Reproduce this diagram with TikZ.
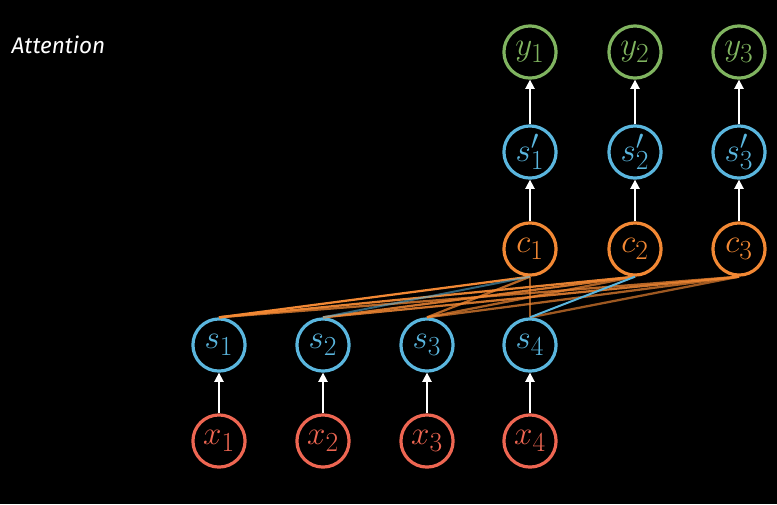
\documentclass[tikz,border=0pt]{standalone}
\usepackage{fontspec}
\usepackage{tikz}
\usetikzlibrary{arrows.meta}
\newfontfamily\titlefont{Fira Sans}
\definecolor{inred}{RGB}{238,102,82}
\definecolor{hidblue}{RGB}{90,182,222}
\definecolor{ctxorange}{RGB}{242,136,52}
\definecolor{outgreen}{RGB}{128,180,96}

\tikzset{
  unit/.style={circle, line width=2.4pt, minimum size=1.38cm, inner sep=0pt, fill=black,
    font=\fontsize{28}{30}\selectfont},
  flow/.style={white, line width=1.3pt, -{Triangle[length=7pt,width=7pt]}},
  attn/.style={ctxorange, line width=1.7pt}
}

\begin{document}
\begin{tikzpicture}[x=0.026458cm, y=-0.026458cm]
  % background
  \fill[black] (0,0) rectangle (777,504);
  \node[white, anchor=west, font=\titlefont\itshape\fontsize{17}{20}\selectfont] (title) at (7,45) {Attention};

  % encoder: inputs and hidden states
  \foreach \i/\px in {1/219,2/323,3/427,4/530}{
    \node[unit, draw=inred, text=inred] (x\i) at (\px,441) {$x_{\i}$};
    \node[unit, draw=hidblue, text=hidblue] (s\i) at (\px,345) {$s_{\i}$};
    \draw[flow] (x\i) -- (s\i);
  }

  % decoder: contexts, states, outputs
  \foreach \j/\px in {1/530,2/635,3/739}{
    \node[unit, draw=ctxorange, text=ctxorange] (c\j) at (\px,249) {$c_{\j}$};
    \node[unit, draw=hidblue, text=hidblue] (sp\j) at (\px,152) {$s'_{\j}$};
    \node[unit, draw=outgreen, text=outgreen] (y\j) at (\px,52) {$y_{\j}$};
    \draw[flow] (c\j) -- (sp\j);
    \draw[flow] (sp\j) -- (y\j);
  }

  % attention weights
  \foreach \j/\i/\op in {1/1/1,1/3/0.75,1/4/0.65,2/1/0.95,2/2/0.85,2/3/0.7,3/1/0.75,3/2/0.85,3/3/0.7,3/4/0.65}{
    \draw[attn, opacity=\op] (c\j.south) -- (s\i.north);
  }
  \draw[hidblue, line width=1.5pt, opacity=0.55] (c1.south) -- (s2.north);
  \draw[hidblue, line width=1.5pt] (c2.south) -- (s4.north);
\end{tikzpicture}
\end{document}
